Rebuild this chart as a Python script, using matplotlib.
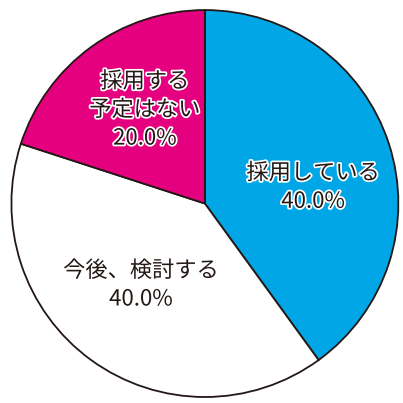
import matplotlib.pyplot as plt
import matplotlib.patheffects as pe

plt.rcParams['font.family'] = ['Noto Sans CJK JP', 'DejaVu Sans']

labels = ['採用している', '今後、検討する', '採用する\n予定はない']
values = [40.0, 40.0, 20.0]
colors = ['#00a6e6', '#ffffff', '#e5007f']

# label centres (axes data units, pie radius = 1)
label_pos = [(0.56, 0.085), (-0.33, -0.42), (-0.31, 0.485)]

fig = plt.figure(figsize=(4.03, 4.03), dpi=100)
ax = fig.add_axes([0.0, 0.0, 1.0, 1.0])

wedges, texts = ax.pie(
    values, colors=colors, startangle=90, counterclock=False,
    radius=1.0, center=(0, 0),
    wedgeprops=dict(edgecolor='#231815', linewidth=1.3),
)

for (x, y), lab, v in zip(label_pos, labels, values):
    ax.text(x, y, f'{lab}\n{v:.1f}%',
            ha='center', va='center', fontsize=16, color='#231815',
            linespacing=1.3,
            path_effects=[pe.withStroke(linewidth=2.5, foreground='white')])

ax.set_xlim(-1.059, 1.024)
ax.set_ylim(-1.031, 1.052)
ax.set_aspect('equal')
ax.axis('off')

fig.savefig('out.png', dpi=100, facecolor='white')
